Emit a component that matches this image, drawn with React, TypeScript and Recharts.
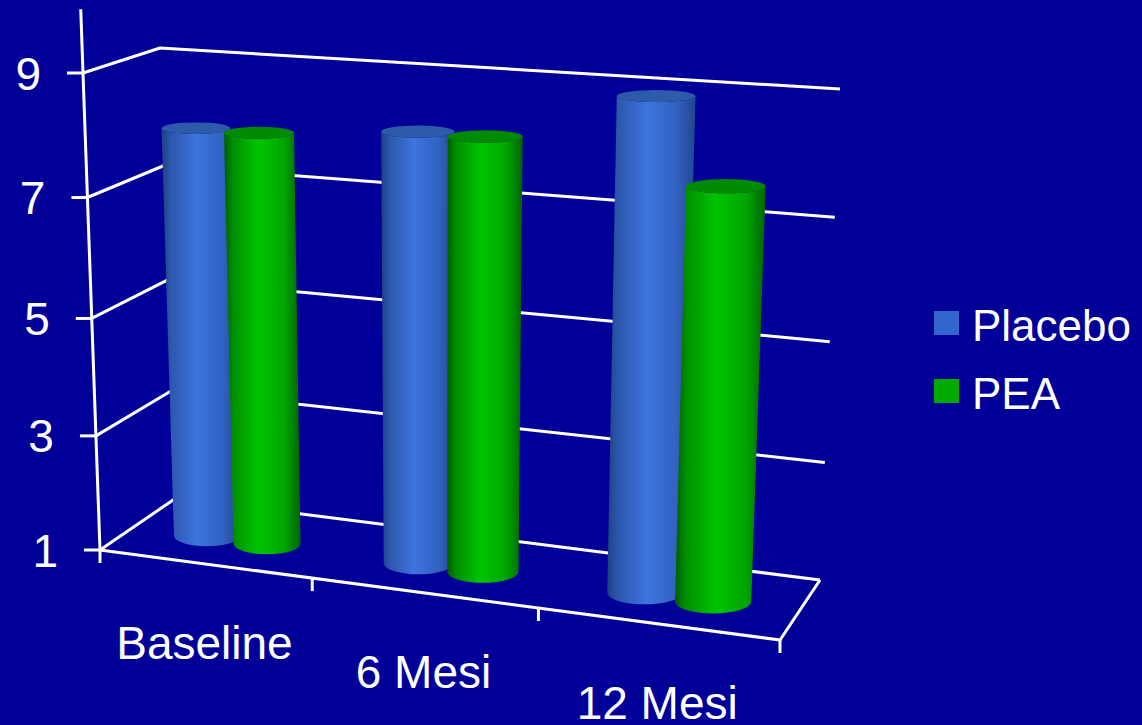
import React from 'react';
import { BarChart, Bar, XAxis, YAxis, CartesianGrid, Legend } from 'recharts';

// ---- data ----
const categories = ['Baseline', '6 Mesi', '12 Mesi'];
const seriesNames = ['Placebo', 'PEA'];
const placeboValues = [8.0, 8.2, 9.0];
const peaValues = [8.0, 8.2, 7.7];
const yTicks = [1, 3, 5, 7, 9];
const yDomain: [number, number] = [1, 10];

const data = categories.map((name, i) => ({ name, Placebo: placeboValues[i], PEA: peaValues[i] }));

// ---- layout ----
const W = 1142;
const H = 725;
const MARGIN = 30;
const Y_AXIS_W = 40;
const X_AXIS_H = 40;
const PLOT = {
  left: MARGIN + Y_AXIS_W,
  top: MARGIN,
  width: W - 2 * MARGIN - Y_AXIS_W,
  height: H - 2 * MARGIN - X_AXIS_H,
};
const BG = '#000099';
const FONT = '"Liberation Sans", Arial, Helvetica, sans-serif';
const LINE_W = 3;
const LABEL_DROP = 95; // category label baseline below the front floor edge

// ---- 3D box projection ----
// The flat plot (u across categories, t up the value axis) is extruded into a
// box seen in perspective; w runs from the front face (0) to the back wall (1).
type Pt = [number, number];
const F00: Pt = [100, 550]; // front, left, floor
const F01: Pt = [83, 73]; // front, left, top level
const F10: Pt = [780, 640]; // front, right, floor
const F11: Pt = [800, 121]; // front, right, top level
const B00: Pt = [176, 498]; // back, left, floor
const B01: Pt = [160, 48]; // back, left, top level
const B10: Pt = [820, 580]; // back, right, floor
const B11: Pt = [840, 89]; // back, right, top level
const K_U = 0.102;
const K_T = 0.06;
const K_W = 0.2;
const BAR_DEPTH = 0.5; // cylinders stand halfway into the box
const BAR_RADIUS_W = 0.2; // cylinder radius along the depth axis
const BAR_SCALE = 1.1; // cylinders slightly wider than their slot

const persp = (s: number, k: number) => s / (1 + k * (1 - s));
const lerp = (a: Pt, b: Pt, s: number): Pt => [a[0] + (b[0] - a[0]) * s, a[1] + (b[1] - a[1]) * s];

function project(u: number, t: number, w: number): Pt {
  const su = persp(u, K_U);
  const st = persp(t, K_T);
  const sw = persp(w, K_W);
  const front = lerp(lerp(F00, F10, su), lerp(F01, F11, su), st);
  const back = lerp(lerp(B00, B10, su), lerp(B01, B11, su), st);
  return lerp(front, back, sw);
}

// chart-space helpers
const uOf = (x: number) => (x - PLOT.left) / PLOT.width;
const BOX_LO = yTicks[0];
const BOX_HI = yTicks[yTicks.length - 1];
const tOf = (y: number) => {
  const value = yDomain[0] + ((PLOT.top + PLOT.height - y) / PLOT.height) * (yDomain[1] - yDomain[0]);
  return (value - BOX_LO) / (BOX_HI - BOX_LO);
};
const pts = (list: Pt[]) => list.map((p) => `${p[0].toFixed(1)},${p[1].toFixed(1)}`).join(' ');

// ---- cylinder bars ----
type Palette = { id: string; stops: [number, string][]; top: string };
const PLACEBO_PAL: Palette = {
  id: 'placebo',
  stops: [
    [0, '#203f82'],
    [0.12, '#2c58ad'],
    [0.45, '#3d74de'],
    [0.78, '#3262c2'],
    [1, '#22468c'],
  ],
  top: '#2e5aaa',
};
const PEA_PAL: Palette = {
  id: 'pea',
  stops: [
    [0, '#005c00'],
    [0.12, '#008f00'],
    [0.45, '#00c400'],
    [0.78, '#00a600'],
    [1, '#006400'],
  ],
  top: '#008a00',
};

function ellipseAt(uc: number, ru: number, t: number) {
  const l = project(uc - ru, t, BAR_DEPTH);
  const r = project(uc + ru, t, BAR_DEPTH);
  const n = project(uc, t, BAR_DEPTH - BAR_RADIUS_W);
  const f = project(uc, t, BAR_DEPTH + BAR_RADIUS_W);
  return {
    lx: l[0],
    rx: r[0],
    cx: (l[0] + r[0]) / 2,
    cy: (l[1] + r[1]) / 2,
    ax: (r[0] - l[0]) / 2,
    ay: Math.abs(n[1] - f[1]) / 2,
  };
}

const makeCylinder = (pal: Palette) => (props: any) => {
  const { x, y, width, height, index } = props;
  if (width == null || height == null) return <g />;
  const uc = uOf(x + width / 2);
  const ru = (width / 2 / PLOT.width) * BAR_SCALE;
  const tTop = tOf(y);
  const tBot = tOf(y + height);
  const top = ellipseAt(uc, ru, tTop);
  const bot = ellipseAt(uc, ru, tBot);
  const gid = `cyl-${pal.id}-${index}`;
  const body =
    `M${top.lx},${top.cy} L${bot.lx},${bot.cy} ` +
    `A${bot.ax},${bot.ay} 0 0 0 ${bot.rx},${bot.cy} ` +
    `L${top.rx},${top.cy} ` +
    `A${top.ax},${top.ay} 0 0 1 ${top.lx},${top.cy} Z`;
  return (
    <g>
      <defs>
        <linearGradient id={gid} x1="0" y1="0" x2="1" y2="0">
          {pal.stops.map(([o, c]) => (
            <stop key={o} offset={o} stopColor={c} />
          ))}
        </linearGradient>
      </defs>
      <path d={body} fill={`url(#${gid})`} />
      <ellipse cx={top.cx} cy={top.cy} rx={top.ax} ry={top.ay} fill={pal.top} />
    </g>
  );
};

const PlaceboShape = makeCylinder(PLACEBO_PAL);
const PeaShape = makeCylinder(PEA_PAL);

// ---- grid: left side wall edge + back wall line at every tick level ----
const gridLine = (props: any) => {
  const { y1, index } = props;
  const t = tOf(y1);
  if (t > 1.001 || t < -0.001) return <g key={`grid-${index}`} />;
  const a = project(0, t, 0);
  const b = project(0, t, 1);
  const c = project(1, t, 1);
  return (
    <polyline
      key={`grid-${index}`}
      points={pts([a, b, c])}
      fill="none"
      stroke="#ffffff"
      strokeWidth={LINE_W}
      strokeLinejoin="round"
    />
  );
};

// ---- value axis ----
const YTick = (props: any) => {
  const { y, payload, index } = props;
  const t = tOf(y);
  const p = project(0, t, 0);
  const isFirst = index === 0;
  const axisTop = project(0, tOf(PLOT.top), 0);
  return (
    <g>
      {isFirst && (
        <line x1={p[0]} y1={p[1]} x2={axisTop[0]} y2={axisTop[1]} stroke="#ffffff" strokeWidth={LINE_W} />
      )}
      <line x1={p[0] - 16} y1={p[1]} x2={p[0]} y2={p[1]} stroke="#ffffff" strokeWidth={LINE_W} />
      <text
        x={p[0] - 42}
        y={p[1]}
        dy="0.36em"
        textAnchor="end"
        fill="#ffffff"
        fontSize={46}
        fontFamily={FONT}
      >
        {payload.value}
      </text>
    </g>
  );
};

// ---- category axis along the front edge of the floor ----
const XTick = (props: any) => {
  const { x, payload, index } = props;
  const n = categories.length;
  const uc = uOf(x);
  const half = 0.5 / n;
  const floor = (u: number) => project(u, 0, 0);
  const tickAt = (u: number, k: string) => {
    const p = floor(u);
    return <line key={k} x1={p[0]} y1={p[1]} x2={p[0]} y2={p[1] + 13} stroke="#ffffff" strokeWidth={LINE_W} />;
  };
  const lab = floor(uc);
  const isFirst = index === 0;
  const isLast = index === n - 1;
  return (
    <g>
      {isFirst && (
        <polyline
          points={pts([floor(0), floor(1), project(1, 0, 1)])}
          fill="none"
          stroke="#ffffff"
          strokeWidth={LINE_W}
          strokeLinejoin="round"
        />
      )}
      {tickAt(uc - half, 'l')}
      {isLast && tickAt(uc + half, 'r')}
      <text x={lab[0]} y={lab[1] + LABEL_DROP} textAnchor="middle" fill="#ffffff" fontSize={46} fontFamily={FONT}>
        {payload.value}
      </text>
    </g>
  );
};

// ---- legend ----
const LegendBox = (props: any) => {
  const items = (props.payload || []) as any[];
  const ordered = seriesNames
    .map((name) => items.find((it) => it.value === name || it.dataKey === name))
    .filter(Boolean) as any[];
  return (
    <svg width={210} height={130}>
      {ordered.map((it, i) => (
        <g key={it.value} transform={`translate(0, ${i * 68})`}>
          <rect x={0} y={11} width={25} height={24} fill={it.color} />
          <text x={38} y={41} fill="#ffffff" fontSize={44} fontFamily={FONT}>
            {it.value}
          </text>
        </g>
      ))}
    </svg>
  );
};

export default function App() {
  return (
    <div style={{ position: 'absolute', left: 0, top: 0, width: W, height: H, background: BG, overflow: 'hidden' }}>
      <BarChart
        width={W}
        height={H}
        data={data}
        margin={{ top: MARGIN, right: MARGIN, bottom: MARGIN, left: MARGIN }}
        barCategoryGap="21%"
        barGap={0}
      >
        <CartesianGrid horizontal={gridLine} vertical={false} />
        <XAxis
          dataKey="name"
          height={X_AXIS_H}
          axisLine={false}
          tickLine={false}
          interval={0}
          tick={(p: any) => <XTick {...p} />}
        />
        <YAxis
          type="number"
          domain={yDomain}
          ticks={yTicks}
          width={Y_AXIS_W}
          axisLine={false}
          tickLine={false}
          interval={0}
          tick={(p: any) => <YTick {...p} />}
        />
        <Legend
          layout="vertical"
          align="center"
          verticalAlign="middle"
          wrapperStyle={{ left: 934, top: 300, width: 210, height: 130 }}
          content={(p: any) => <LegendBox {...p} />}
        />
        <Bar dataKey="Placebo" fill="#3366cc" shape={PlaceboShape} isAnimationActive={false} />
        <Bar dataKey="PEA" fill="#00aa00" shape={PeaShape} isAnimationActive={false} />
      </BarChart>
    </div>
  );
}
